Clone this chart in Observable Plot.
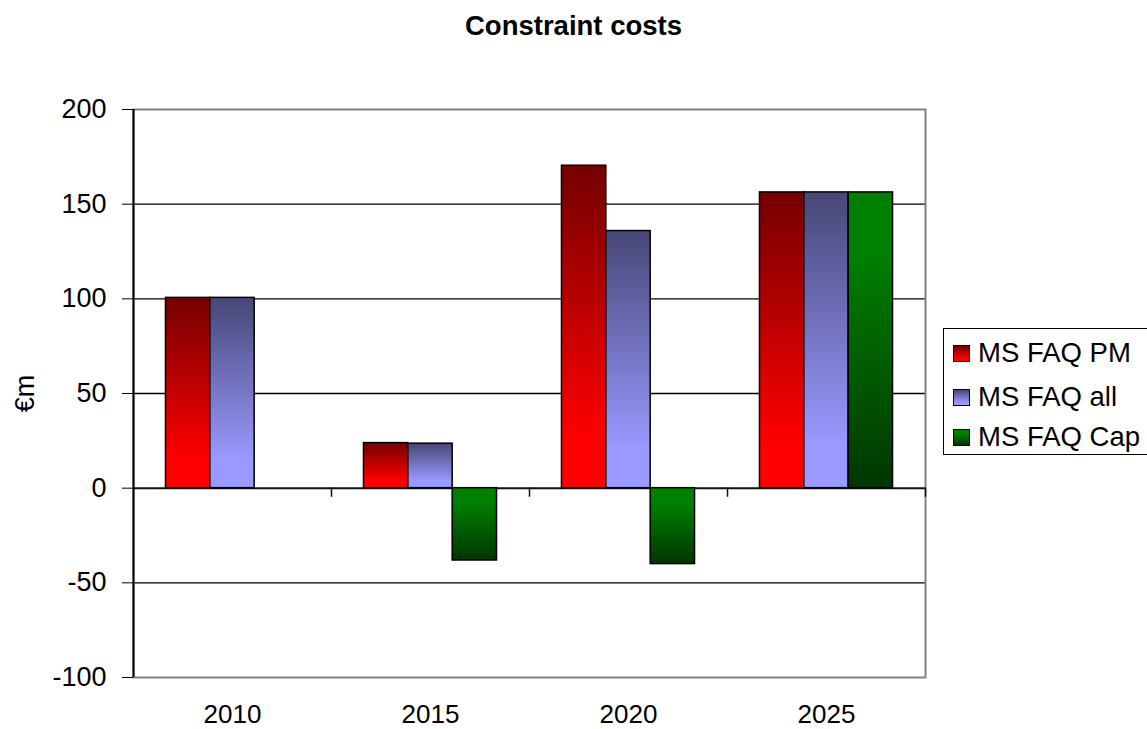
<!DOCTYPE html>
<html>
<head>
<meta charset="utf-8">
<script src="https://cdn.jsdelivr.net/npm/d3@7"></script>
<script src="https://cdn.jsdelivr.net/npm/@observablehq/plot@0.6"></script>
<style>
  html, body { margin: 0; padding: 0; background: #fff; overflow: hidden; }
  #chart { position: relative; width: 1147px; height: 729px; font-family: "Liberation Sans", Arial, sans-serif; color: #000; }
  #title { position: absolute; left: 0; top: 12px; width: 1147px; text-align: center; font-size: 27.5px; line-height: 27px; font-weight: bold; }
  #plot { position: absolute; left: 0; top: 56px; }
  #legend { position: absolute; left: 943px; top: 328px; width: 230px; height: 127px; border: 1.5px solid #000; background: #fff; box-sizing: border-box; }
  .item { position: absolute; left: 9px; height: 30px; display: flex; align-items: center; font-size: 27.5px; white-space: nowrap; }
  .sw { width: 17px; height: 17px; border: 1.5px solid #000; margin-right: 8px; box-sizing: border-box; }
</style>
</head>
<body>
<div id="chart">
  <div id="title">Constraint costs</div>
  <div id="plot"></div>
  <div id="legend"></div>
</div>
<script>
// Constraint costs by year (€m) for the three MS FAQ scenarios
const years = [2010, 2015, 2020, 2025];
const seriesNames = ["MS FAQ PM", "MS FAQ all", "MS FAQ Cap"];
const pmValues  = [100.5, 23.8, 170.3, 156.2];
const allValues = [100.5, 23.5, 135.8, 156.2];
const capValues = [null, -38.2, -40.1, 156.2];
const yTicks = [-100, -50, 0, 50, 100, 150, 200];

// Vertical gradients used for each series (top colour → bottom colour)
const gradients = [
  {id: "g-pm",  stops: [[0, "#740000"], [0.85, "#ff0000"], [1, "#ff0000"]]},
  {id: "g-all", stops: [[0, "#474777"], [0.85, "#9999ff"], [1, "#9999ff"]]},
  {id: "g-cap", stops: [[0, "#008000"], [0.2, "#008000"], [1, "#003600"]]}
];

const seriesValues = [pmValues, allValues, capValues];
const yearStep = 5;
const xDomain = [years[0] - yearStep / 2, years[years.length - 1] + yearStep / 2];
const barWidth = 1.12;                       // in years
const groupStart = -1.5 * barWidth;

const rows = [];
seriesNames.forEach((name, i) => {
  seriesValues[i].forEach((v, j) => {
    if (v == null) return;
    const x1 = years[j] + groupStart + i * barWidth;
    rows.push({series: name, year: years[j], value: v, x1, x2: x1 + barWidth});
  });
});

const boundaries = years.map(y => y + yearStep / 2);

const barMarks = seriesNames.map((name, i) =>
  Plot.rect(rows.filter(d => d.series === name), {
    x1: "x1", x2: "x2", y1: 0, y2: "value",
    fill: `url(#${gradients[i].id})`, stroke: "#000", strokeWidth: 1.5
  })
);

const plot = Plot.plot({
  width: 1147,
  height: 673,
  marginLeft: 133,
  marginRight: 222,
  marginTop: 53,
  marginBottom: 52,
  style: {fontFamily: "'Liberation Sans', Arial, sans-serif", color: "#000", background: "transparent", overflow: "visible"},
  x: {domain: xDomain},
  y: {domain: [yTicks[0], yTicks[yTicks.length - 1]]},
  marks: [
    Plot.ruleY(yTicks.filter(t => t !== 0 && t !== yTicks[0] && t !== yTicks[yTicks.length - 1]), {stroke: "#000", strokeWidth: 1.3}),
    Plot.frame({stroke: "#808080", strokeWidth: 2}),
    Plot.ruleY([0], {stroke: "#111", strokeWidth: 2}),
    Plot.ruleX(boundaries, {y1: 0, y2: -4.8, stroke: "#111", strokeWidth: 1.5}),
    ...barMarks,
    Plot.ruleX([xDomain[0]], {stroke: "#000", strokeWidth: 2}),
    Plot.axisY({ticks: yTicks, tickFormat: d => String(d), tickSize: 11, tickPadding: 16, fontSize: 27, stroke: "#000",
                label: "€m", labelAnchor: "center", labelOffset: 119, labelArrow: "none"}),
    Plot.axisX({ticks: years, tickFormat: d => String(d), tickSize: 0, tickPadding: 27, fontSize: 26, label: null})
  ]
});

// gradient definitions referenced by the bar fills
const ns = "http://www.w3.org/2000/svg";
const defs = document.createElementNS(ns, "defs");
gradients.forEach(g => {
  const lg = document.createElementNS(ns, "linearGradient");
  lg.setAttribute("id", g.id);
  lg.setAttribute("x1", "0"); lg.setAttribute("y1", "0");
  lg.setAttribute("x2", "0"); lg.setAttribute("y2", "1");
  g.stops.forEach(([o, c]) => {
    const s = document.createElementNS(ns, "stop");
    s.setAttribute("offset", o);
    s.setAttribute("stop-color", c);
    lg.appendChild(s);
  });
  defs.appendChild(lg);
});
plot.insertBefore(defs, plot.firstChild);
document.getElementById("plot").appendChild(plot);

// legend
const legend = document.getElementById("legend");
const itemTops = [9, 53, 93];
seriesNames.forEach((name, i) => {
  const item = document.createElement("div");
  item.className = "item";
  item.style.top = itemTops[i] + "px";
  const sw = document.createElement("div");
  sw.className = "sw";
  const st = gradients[i].stops.map(([o, c]) => `${c} ${o * 100}%`).join(", ");
  sw.style.background = `linear-gradient(to bottom, ${st})`;
  const label = document.createElement("span");
  label.textContent = name;
  item.appendChild(sw);
  item.appendChild(label);
  legend.appendChild(item);
});
</script>
</body>
</html>
